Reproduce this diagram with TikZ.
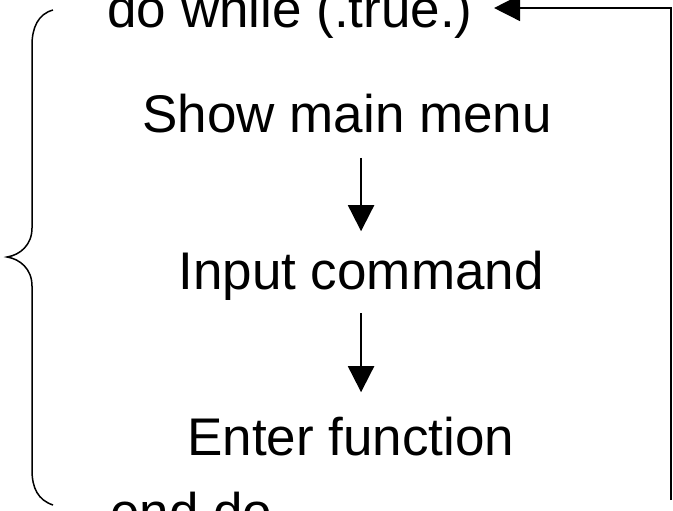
\documentclass[tikz,border=0pt]{standalone}
\usepackage{fontspec}
\setmainfont{Liberation Sans}
\usetikzlibrary{arrows.meta,positioning}

\begin{document}
\begin{tikzpicture}[
        x=0.5pt, y=-0.5pt,
        codeline/.style={inner sep=0pt, anchor=base west, font=\fontsize{26.5}{32}\selectfont},
        arrow/.style={-{Triangle[length=13pt, width=13pt]}, line width=1pt},
        brace/.style={line width=0.75pt}
      ]
        \useasboundingbox (0,0) rectangle (673,510);
        \node[codeline] (dowhile) at (107,27) {do while (.true.)};
        \node[codeline] (menu) at (142,132) {Show main menu};
        \node[codeline] (input) at (178,289) {Input command};
        \node[codeline] (enter) at (187,455) {Enter function};
        \node[codeline] (enddo) at (110,530) {end do};
        \coordinate (loopend) at (671,500);
        \coordinate (looptop) at (671,8);
        \draw[arrow, shorten <=12.5pt, shorten >=9.5pt] (menu.south -| input.north) -- (input.north);
        \draw[arrow, shorten <=6.5pt, shorten >=12pt] (input.south) -- (input.south |- enter.north);
        \draw[arrow, line width=0.75pt, shorten >=10.5pt] (loopend) -- (looptop) -- (dowhile.east |- looptop);
        \draw[brace] (53,10) .. controls (38,14) and (32,28) .. (32,45) -- (32,228)
          .. controls (32,245) and (20,255) .. (7,257)
          .. controls (20,259) and (32,269) .. (32,286) -- (32,470)
          .. controls (32,488) and (38,500) .. (53,505);
      \end{tikzpicture}
\end{document}
